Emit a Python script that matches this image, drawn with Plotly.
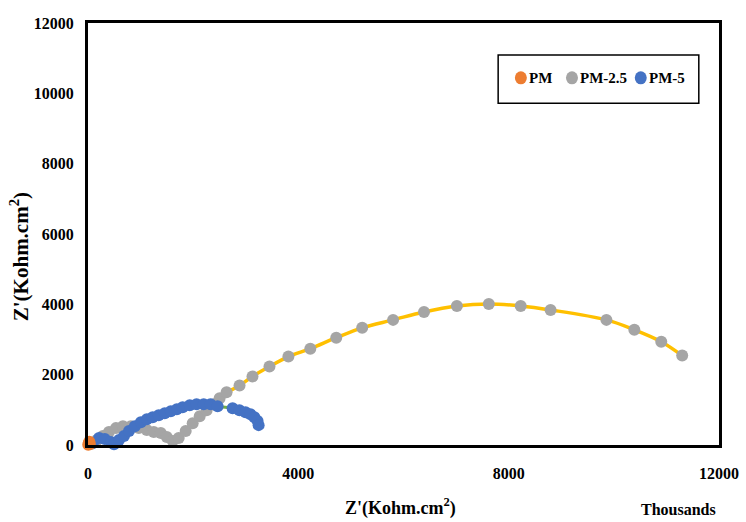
import plotly.graph_objects as go

# ---- data (Z' in Thousands, Z'' ) ----
pm_x = [5, 15, 25, 35]
pm_y = [10, 60, 90, 30]

pm25_x = [57, 171, 284, 398, 531, 664, 815, 967, 1119, 1251, 1384, 1498, 1612, 1725,
          1858, 1991, 2124, 2256, 2389, 2503, 2635,
          2882, 3128, 3451, 3811, 4228, 4721, 5214, 5802, 6390, 7015, 7622, 8229,
          8797, 9859, 10390, 10902, 11300]
pm25_y = [28, 141, 254, 367, 480, 536, 536, 480, 424, 367, 339, 226, 113, 198,
          395, 621, 819, 988, 1158, 1327, 1497,
          1694, 1949, 2231, 2514, 2739, 3050, 3332, 3558, 3784, 3954, 4010, 3954,
          3841, 3558, 3276, 2937, 2542]

pm5_x = [95, 210, 320, 435, 495, 590, 685, 780, 890, 1005, 1120, 1230, 1345, 1460,
         1575, 1690, 1800, 1935, 2065, 2200, 2330, 2465, 2750, 2880, 2995, 3090,
         3165, 3225, 3245]
pm5_y = [55, 200, 170, 85, 20, 140, 255, 395, 535, 650, 735, 790, 845, 905,
         960, 1015, 1075, 1130, 1160, 1160, 1160, 1100, 1045, 990, 930, 875,
         790, 680, 565]

x_ticks = [0, 4000, 8000, 12000]
y_ticks = [0, 2000, 4000, 6000, 8000, 10000, 12000]

series_names = ["PM", "PM-2.5", "PM-5"]

FONT = "Times New Roman, Liberation Serif, serif"
ORANGE, GRAY, BLUE = "#ED7D31", "#A5A5A5", "#4472C4"
YELLOW, GREEN = "#FFC000", "#70AD47"
series_colors = [ORANGE, GRAY, BLUE]

fig = go.Figure()

# smooth line through the PM-2.5 arc (yellow)
arc_start = 20
fig.add_trace(go.Scatter(x=pm25_x[arc_start:], y=pm25_y[arc_start:], mode="lines",
                         line=dict(color=YELLOW, width=3.5, shape="spline"),
                         showlegend=False, hoverinfo="skip"))
# green line through part of PM-5
fig.add_trace(go.Scatter(x=pm5_x[19:24], y=pm5_y[19:24], mode="lines",
                         line=dict(color=GREEN, width=3, shape="spline"),
                         showlegend=False, hoverinfo="skip"))

fig.add_trace(go.Scatter(x=pm25_x, y=pm25_y, mode="markers", name=series_names[1],
                         marker=dict(color=GRAY, size=12), cliponaxis=False,
                         showlegend=False))
fig.add_trace(go.Scatter(x=pm5_x, y=pm5_y, mode="markers", name=series_names[2],
                         marker=dict(color=BLUE, size=12), cliponaxis=False,
                         showlegend=False))
fig.add_trace(go.Scatter(x=pm_x, y=pm_y, mode="markers", name=series_names[0],
                         marker=dict(color=ORANGE, size=12), cliponaxis=False,
                         showlegend=False))

# ---- legend (box, markers, labels) ----
legend_marker_x = [0.686, 0.767, 0.876]
legend_text_x = [0.696, 0.777, 0.886]
legend_y = 0.870
shapes = [dict(type="rect", xref="paper", yref="paper",
               x0=0.650, x1=0.968, y0=0.810, y1=0.924,
               line=dict(color="black", width=1.5), fillcolor="white", layer="below")]
annotations = []
for name, col, mx, tx in zip(series_names, series_colors, legend_marker_x, legend_text_x):
    shapes.append(dict(type="circle", xref="paper", yref="paper",
                       xsizemode="pixel", ysizemode="pixel",
                       xanchor=mx, yanchor=legend_y, x0=-6, x1=6, y0=-6.5, y1=6.5,
                       fillcolor=col, line=dict(width=0)))
    annotations.append(dict(text=name, xref="paper", yref="paper", x=tx, y=legend_y,
                            xanchor="left", yanchor="middle", showarrow=False,
                            font=dict(family=FONT, size=15, weight="bold", color="black")))

annotations += [
    dict(text="Z'(Kohm.cm<sup>2</sup>)", xref="paper", yref="paper",
         x=0.496, y=-0.147, xanchor="center", yanchor="middle", showarrow=False,
         font=dict(family=FONT, size=18, weight="bold", color="black")),
    dict(text="Z'(Kohm.cm<sup>2</sup>)", xref="paper", yref="paper",
         x=-0.108, y=0.447, xanchor="center", yanchor="middle", showarrow=False,
         textangle=-90,
         font=dict(family=FONT, size=21, weight="bold", color="black")),
    dict(text="Thousands", xref="paper", yref="paper",
         x=0.936, y=-0.154, xanchor="center", yanchor="middle", showarrow=False,
         font=dict(family=FONT, size=16, weight="bold", color="black")),
]

fig.update_layout(
    width=746, height=522,
    margin=dict(l=88, r=27, t=23, b=77, autoexpand=False),
    plot_bgcolor="white", paper_bgcolor="white",
    font=dict(family=FONT, color="black"),
    showlegend=False,
    shapes=shapes,
    annotations=annotations,
)

fig.update_xaxes(range=[0, 12000], tickvals=x_ticks, ticktext=[str(v) for v in x_ticks],
                 showgrid=False, zeroline=False, showline=True, linecolor="black",
                 linewidth=3, mirror=True, ticks="", ticklabelstandoff=12, automargin=False,
                 tickfont=dict(family=FONT, size=16, weight="bold", color="black"))
fig.update_yaxes(range=[0, 12000], tickvals=y_ticks, ticktext=[str(v) for v in y_ticks],
                 showgrid=False, zeroline=False, showline=True, linecolor="black",
                 linewidth=3, mirror=True, ticks="", ticklabelstandoff=8, automargin=False,
                 tickfont=dict(family=FONT, size=16, weight="bold", color="black"))

fig.write_html("out.html")
